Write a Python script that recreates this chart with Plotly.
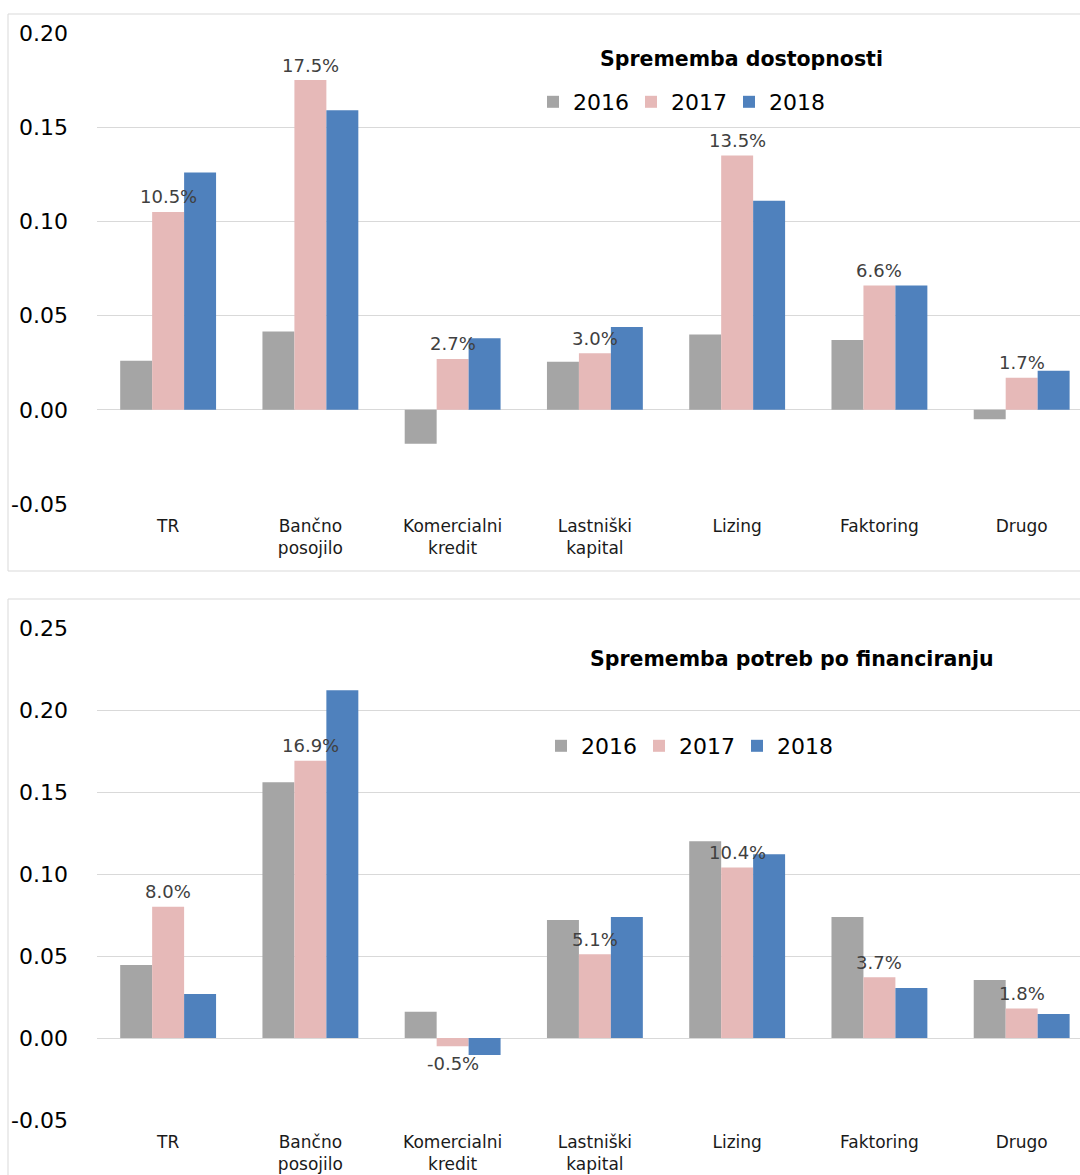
import plotly.graph_objects as go

W, H = 1080, 1175

categories = ["TR", "Bančno<br>posojilo", "Komercialni<br>kredit", "Lastniški<br>kapital",
              "Lizing", "Faktoring", "Drugo"]
years = ["2016", "2017", "2018"]

# Top chart: Sprememba dostopnosti
dost_2016 = [0.026, 0.0415, -0.018, 0.0255, 0.040, 0.037, -0.005]
dost_2017 = [0.105, 0.175, 0.027, 0.030, 0.135, 0.066, 0.017]
dost_2018 = [0.126, 0.159, 0.038, 0.044, 0.111, 0.066, 0.0207]

# Bottom chart: Sprememba potreb po financiranju
potr_2016 = [0.0445, 0.156, 0.016, 0.072, 0.120, 0.0738, 0.0354]
potr_2017 = [0.080, 0.169, -0.005, 0.051, 0.104, 0.037, 0.018]
potr_2018 = [0.0268, 0.212, -0.0104, 0.0738, 0.112, 0.0305, 0.0146]

top_tickvals = [-0.05, 0.0, 0.05, 0.10, 0.15, 0.20]
top_ticktext = ["-0.05", "0.00", "0.05", "0.10", "0.15", "0.20"]
bot_tickvals = [-0.05, 0.0, 0.05, 0.10, 0.15, 0.20, 0.25]
bot_ticktext = ["-0.05", "0.00", "0.05", "0.10", "0.15", "0.20", "0.25"]

title_top = "Sprememba dostopnosti"
title_bot = "Sprememba potreb po financiranju"

colors = ["#A5A5A5", "#E6B9B8", "#4F81BD"]
FONT = "DejaVu Sans"

def py(px):
    return 1 - px / H

fig = go.Figure()

top_series = [dost_2016, dost_2017, dost_2018]
bot_series = [potr_2016, potr_2017, potr_2018]

annotations = []

def add_chart(series, labels_vals, xa, ya, leg):
    for i, (yr, vals) in enumerate(zip(years, series)):
        fig.add_trace(go.Bar(x=categories, y=vals, name=yr, marker_color=colors[i],
                             marker_line_width=0, xaxis=xa, yaxis=ya, legend=leg))
    # 2017 data labels (middle bar of each group), drawn above all bars
    for cat, v in zip(categories, labels_vals):
        annotations.append(dict(
            x=cat, y=v, xref=xa, yref=ya, text=f"{v * 100:.1f}%", showarrow=False,
            xanchor="center", yanchor="middle", yshift=15 if v >= 0 else -17,
            font=dict(size=18, color="#404040", family=FONT)))

add_chart(top_series, dost_2017, "x", "y", "legend")
add_chart(bot_series, potr_2017, "x2", "y2", "legend2")

xdom = [97 / W, 1.0]
xrange_ = [-0.5, 6.41]
grid = "#D9D9D9"

xcommon = dict(range=xrange_, showgrid=False, showline=False, ticks="",
               tickfont=dict(size=17, color="#1a1a1a", family=FONT),
               ticklabelstandoff=10, fixedrange=True, automargin=False)
ycommon = dict(showgrid=True, gridcolor=grid, gridwidth=1, zeroline=True,
               zerolinecolor=grid, zerolinewidth=1, showline=False, ticks="",
               tickfont=dict(size=22, color="#000000", family=FONT),
               ticklabelstandoff=28, automargin=False)

annotations += [
    dict(text="<b>" + title_top + "</b>", x=741 / W, y=py(59), xref="paper", yref="paper",
         xanchor="center", yanchor="middle", showarrow=False,
         font=dict(size=20.5, color="#000000", family=FONT)),
    dict(text="<b>" + title_bot + "</b>", x=792 / W, y=py(659), xref="paper", yref="paper",
         xanchor="center", yanchor="middle", showarrow=False,
         font=dict(size=20.5, color="#000000", family=FONT)),
]

fig.update_layout(
    width=W, height=H,
    margin=dict(l=0, r=0, t=0, b=0, autoexpand=False),
    paper_bgcolor="white", plot_bgcolor="white",
    barmode="group", bargap=0.326, bargroupgap=0,
    font=dict(family=FONT),
    xaxis=dict(domain=xdom, anchor="y", **xcommon),
    xaxis2=dict(domain=xdom, anchor="y2", **xcommon),
    yaxis=dict(domain=[py(504), py(33)], range=[-0.05, 0.20], anchor="x",
               tickvals=top_tickvals, ticktext=top_ticktext, **ycommon),
    yaxis2=dict(domain=[py(1120), py(628)], range=[-0.05, 0.25], anchor="x2",
                tickvals=bot_tickvals, ticktext=bot_ticktext, **ycommon),
    legend=dict(orientation="h", x=533 / W, xanchor="left", y=py(102), yanchor="middle",
                font=dict(size=22, color="#000000", family=FONT),
                entrywidth=53, entrywidthmode="pixels",
                bgcolor="rgba(0,0,0,0)", traceorder="normal"),
    legend2=dict(orientation="h", x=541 / W, xanchor="left", y=py(746), yanchor="middle",
                 font=dict(size=22, color="#000000", family=FONT),
                 entrywidth=53, entrywidthmode="pixels",
                 bgcolor="rgba(0,0,0,0)", traceorder="normal"),
    annotations=annotations,
    shapes=[
        dict(type="rect", xref="paper", yref="paper", x0=8 / W, x1=1.01,
             y0=py(571), y1=py(14), line=dict(color=grid, width=1), layer="below"),
        dict(type="rect", xref="paper", yref="paper", x0=8 / W, x1=1.01,
             y0=-0.01, y1=py(599), line=dict(color=grid, width=1), layer="below"),
    ],
)

fig.write_html("out.html")
